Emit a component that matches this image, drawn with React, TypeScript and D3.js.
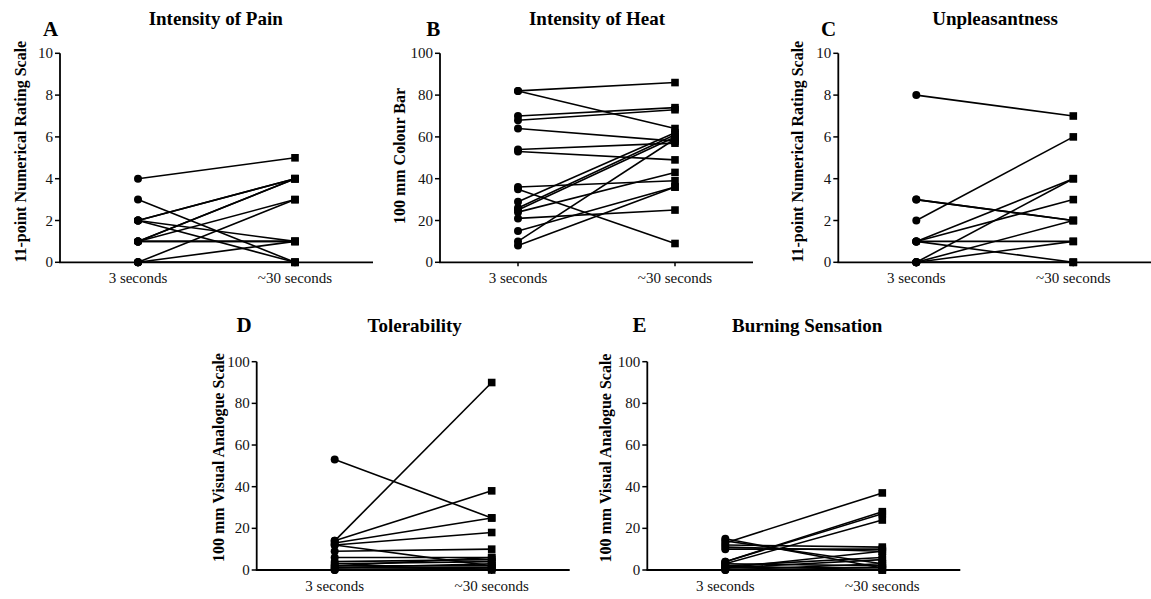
import React from "react";
import * as d3 from "d3";

const categories = ["3 seconds", "~30 seconds"];

const painBefore = [4, 3, 2, 2, 2, 2, 1, 1, 1, 1, 1, 0, 0, 0, 0];
const painAfter = [5, 0, 4, 4, 1, 0, 4, 4, 3, 1, 1, 3, 1, 0, 0];

const heatBefore = [82, 82, 70, 68, 64, 54, 53, 36, 35, 29, 26, 25, 24, 21, 15, 10, 8];
const heatAfter = [86, 64, 74, 73, 58, 57, 49, 39, 9, 62, 61, 60, 43, 25, 36, 59, 36];

const unplBefore = [8, 3, 3, 2, 1, 1, 1, 1, 0, 0, 0, 0, 0];
const unplAfter = [7, 2, 2, 6, 4, 3, 1, 0, 4, 2, 1, 0, 0];

const tolBefore = [53, 14, 14, 13, 12, 12, 9, 6, 4, 3, 2, 2, 1, 1, 0, 0];
const tolAfter = [25, 90, 38, 25, 2, 18, 10, 6, 5, 4, 6, 2, 1, 3, 0, 1];

const burnBefore = [13, 4, 4, 3, 15, 14, 12, 10, 11, 2, 1, 3, 1, 0, 2, 0, 1];
const burnAfter = [37, 28, 27, 24, 1, 3, 11, 10, 9, 6, 5, 2, 1, 0, 0, 3, 9];

const nrsTicks = [0, 2, 4, 6, 8, 10];
const vasTicks = [0, 20, 40, 60, 80, 100];

const panels = [
  { letter: "A", title: "Intensity of Pain", ylabel: "11-point Numerical Rating Scale", before: painBefore, after: painAfter, max: 10, ticks: nrsTicks,
    x0: 60, yBottom: 262.3, yTop: 53.3, letterX: 50.5, letterY: 36, titleX: 215.7, titleY: 25, labelX: 26, labelY: 151.7 },
  { letter: "B", title: "Intensity of Heat", ylabel: "100 mm Colour Bar", before: heatBefore, after: heatAfter, max: 100, ticks: vasTicks,
    x0: 440, yBottom: 262.3, yTop: 53.3, letterX: 433.3, letterY: 36, titleX: 597, titleY: 25, labelX: 405, labelY: 156 },
  { letter: "C", title: "Unpleasantness", ylabel: "11-point Numerical Rating Scale", before: unplBefore, after: unplAfter, max: 10, ticks: nrsTicks,
    x0: 838.3, yBottom: 262.3, yTop: 53.3, letterX: 828.7, letterY: 36, titleX: 995, titleY: 25, labelX: 803, labelY: 151.7 },
  { letter: "D", title: "Tolerability", ylabel: "100 mm Visual Analogue Scale", before: tolBefore, after: tolAfter, max: 100, ticks: vasTicks,
    x0: 256.7, yBottom: 570, yTop: 361.7, letterX: 244, letterY: 332, titleX: 414.7, titleY: 332, labelX: 224, labelY: 457.5 },
  { letter: "E", title: "Burning Sensation", ylabel: "100 mm Visual Analogue Scale", before: burnBefore, after: burnAfter, max: 100, ticks: vasTicks,
    x0: 647.3, yBottom: 570, yTop: 361.7, letterX: 639.5, letterY: 332, titleX: 807.2, titleY: 332, labelX: 611, labelY: 458 },
];

const FONT = "'Liberation Serif', 'Times New Roman', serif";

function Panel({ p }: { p: any }) {
  const axisW = 313;
  const x = d3.scalePoint<string>().domain(categories).range([p.x0 + 78, p.x0 + 235]);
  const y = d3.scaleLinear().domain([0, p.max]).range([p.yBottom, p.yTop]);
  const x1 = x(categories[0])!;
  const x2 = x(categories[1])!;
  const sq = 7.6;
  return (
    <g>
      <text x={p.letterX} y={p.letterY} textAnchor="middle" fontFamily={FONT} fontWeight="bold" fontSize={21}>{p.letter}</text>
      <text x={p.titleX} y={p.titleY} textAnchor="middle" fontFamily={FONT} fontWeight="bold" fontSize={19}>{p.title}</text>
      <text transform={`translate(${p.labelX},${p.labelY}) rotate(-90)`} textAnchor="middle" fontFamily={FONT} fontWeight="bold" fontSize={16}>{p.ylabel}</text>
      <line x1={p.x0} x2={p.x0} y1={y(p.max)} y2={y(0)} stroke="#000" strokeWidth={1.8} />
      {p.ticks.map((t: number) => (
        <g key={t}>
          <line x1={p.x0 - 5} x2={p.x0} y1={y(t)} y2={y(t)} stroke="#000" strokeWidth={1.5} />
          <text x={p.x0 - 7} y={y(t)} dy="0.34em" textAnchor="end" fontFamily={FONT} fontSize={15} fill="#111">{t}</text>
        </g>
      ))}
      <line x1={p.x0 - 0.9} x2={p.x0 + axisW} y1={y(0)} y2={y(0)} stroke="#000" strokeWidth={1.8} />
      {categories.map((c) => (
        <g key={c}>
          <line x1={x(c)!} x2={x(c)!} y1={y(0)} y2={y(0) + 4} stroke="#000" strokeWidth={1.5} />
          <text x={x(c)!} y={y(0) + 21} textAnchor="middle" fontFamily={FONT} fontSize={15} fill="#111">{c}</text>
        </g>
      ))}
      {p.before.map((b: number, i: number) => (
        <line key={"l" + i} x1={x1} y1={y(b)} x2={x2} y2={y(p.after[i])} stroke="#000" strokeWidth={1.6} />
      ))}
      {p.before.map((b: number, i: number) => (
        <circle key={"c" + i} cx={x1} cy={y(b)} r={4} fill="#000" />
      ))}
      {p.after.map((a: number, i: number) => (
        <rect key={"s" + i} x={x2 - sq / 2} y={y(a) - sq / 2} width={sq} height={sq} fill="#000" />
      ))}
    </g>
  );
}

export default function App() {
  return (
    <svg width={1151} height={599} style={{ position: "absolute", left: 0, top: 0, background: "#fff" }}>
      <rect x={0} y={0} width={1151} height={599} fill="#fff" />
      {panels.map((p) => (
        <Panel key={p.letter} p={p} />
      ))}
    </svg>
  );
}
